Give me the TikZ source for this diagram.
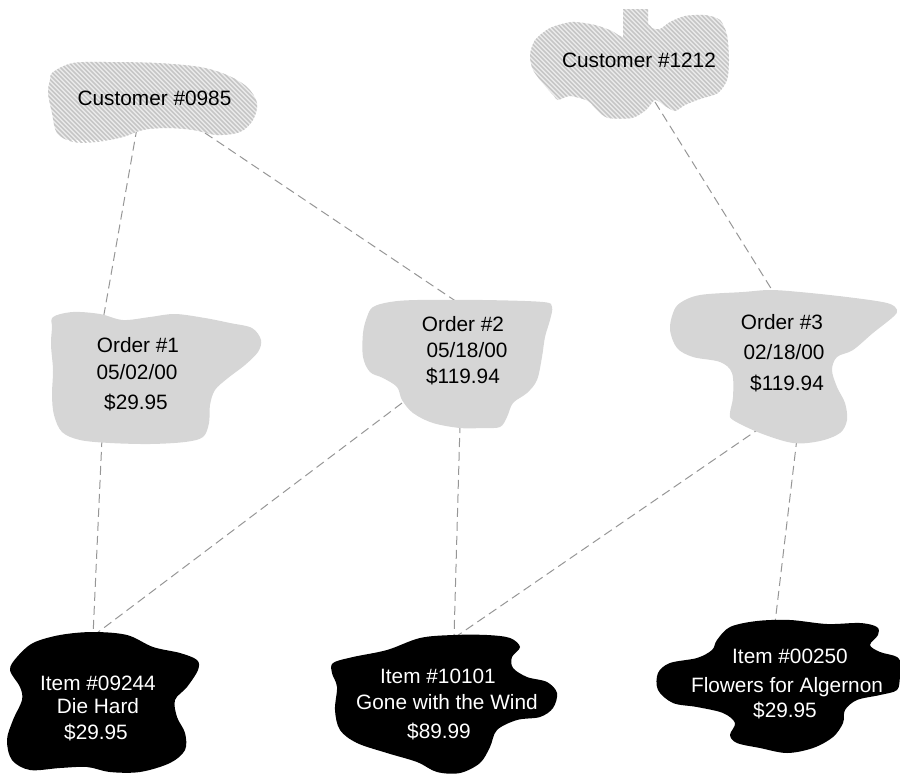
\documentclass[tikz,border=0pt]{standalone}
\usepackage{fontspec}
\setmainfont{Liberation Sans}
\definecolor{ordgray}{RGB}{214,214,214}
\definecolor{hatchbg}{RGB}{236,236,236}
\definecolor{hatchfg}{RGB}{198,198,198}
\definecolor{linkgray}{RGB}{150,150,150}
\newcommand\myhatch[2]{% x-range start, y top
  \fill[hatchbg] (#1,#2) rectangle ++(260,140);
  \foreach \k in {-160,-155.5,...,260}
    \draw[hatchline] ($(#1,#2)+(\k,0)$) -- ++(150,150);}
\usetikzlibrary{calc}
\begin{document}
\begin{tikzpicture}[x=1pt,y=-1pt,
  link/.style={draw=linkgray, line width=1pt, dash pattern=on 9pt off 5pt},
  hatchline/.style={draw=hatchfg, line width=1.6pt},
  orderblob/.style={fill=ordgray},
  itemblob/.style={fill=black},
  lbl/.style={font=\fontsize{20.8}{25}\selectfont, anchor=base, inner sep=0pt},
  itemlbl/.style={lbl, text=white}]
\useasboundingbox (0,0) rectangle (900,777);

% connector end points
\coordinate (pc1a) at (137,128);
\coordinate (pc1b) at (205,133);
\coordinate (pc2) at (655,102);
\coordinate (po1t) at (103,320);
\coordinate (po1b) at (102,438);
\coordinate (po2t) at (463,306);
\coordinate (po2l) at (402,403);
\coordinate (po2b) at (460,424);
\coordinate (po3t) at (777,298);
\coordinate (po3l) at (785,411);
\coordinate (po3b) at (797,438);
\coordinate (pi1t) at (93,636);
\coordinate (pi2t) at (454,638);
\coordinate (pi3t) at (775,623);

% connectors (behind the blobs)
\draw[link] (pc1a) -- (po1t);
\draw[link] (pc1b) -- (po2t);
\draw[link] (pc2) -- (po3t);
\draw[link] (po1b) -- (pi1t);
\draw[link] (po2l) -- (pi1t);
\draw[link] (po2b) -- (pi2t);
\draw[link] (po3l) -- (pi2t);
\draw[link] (po3b) -- (pi3t);

% customer blobs (hatched)
\begin{scope}
  \clip plot[smooth cycle, tension=0.55] coordinates {
  (53,72) (73,63) (107,62) (157,63) (200,67) (227,75) (247,87) (257,103)
  (253,120) (240,132) (217,135) (193,130) (167,128) (143,130) (123,137)
  (97,142) (73,142) (57,133) (52,113) (48,93) (50,80)};
  \myhatch{0}{0}
\end{scope}
\begin{scope}
  \clip plot[smooth cycle, tension=0.45] coordinates {
  (623,37) (635,28) (648,24) (652,28) (660,29) (670,22) (685,16) (705,15)
  (720,20) (727,35) (729,60) (727,80) (718,93) (700,99) (685,105) (675,111)
  (665,106) (655,100) (646,110) (632,118) (608,118) (597,110) (588,101)
  (570,96) (558,100) (554,96) (545,86) (533,70) (530,55) (535,40) (550,28)
  (572,22) (595,25) (612,31)};
  \myhatch{500}{0}
\end{scope}
\begin{scope}
  \clip (623,9) rectangle (648,36);
  \myhatch{500}{0}
\end{scope}

% order blobs
\path[orderblob] plot[smooth cycle, tension=0.55] coordinates {
  (53,317) (73,312) (100,314) (123,320) (150,317) (175,314) (205,318)
  (230,323) (252,328) (261,340) (258,352) (245,365) (228,378) (215,390)
  (210,405) (209,423) (203,437) (185,442) (150,444) (110,443) (80,440)
  (62,432) (54,415) (52,395) (53,370) (51,345) (52,328)};
\path[orderblob] plot[smooth cycle, tension=0.55] coordinates {
  (373,307) (390,302) (417,300) (483,300) (543,302) (552,307) (550,320)
  (545,337) (542,357) (537,380) (527,393) (513,403) (507,417) (500,427)
  (483,428) (460,428) (433,423) (413,413) (402,400) (397,387) (383,378)
  (370,372) (363,357) (363,333) (367,317)};
\path[orderblob] plot[smooth cycle, tension=0.55] coordinates {
  (680,303) (700,295) (743,292) (770,290) (800,292) (847,297) (887,303)
  (897,310) (893,317) (873,333) (853,350) (837,357) (832,370) (837,387)
  (845,403) (847,420) (840,433) (820,441) (793,443) (760,433) (733,420)
  (730,413) (733,397) (732,373) (720,362) (693,357) (677,348) (670,330)
  (673,313)};

% item blobs
\path[itemblob] plot[smooth cycle, tension=0.55] coordinates {
  (10,670) (17,657) (33,643) (60,635) (93,632) (127,635) (153,647)
  (180,653) (197,660) (198,670) (187,687) (175,700) (177,717) (185,733)
  (185,750) (170,763) (140,772) (110,772) (87,767) (60,768) (30,770)
  (12,760) (7,740) (13,720) (22,700) (20,687)};
\path[itemblob] plot[smooth cycle, tension=0.55] coordinates {
  (333,663) (353,657) (387,650) (420,638) (453,635) (487,635) (510,638)
  (520,647) (512,657) (513,668) (527,677) (547,682) (557,693) (553,708)
  (540,717) (517,720) (497,730) (490,747) (480,763) (460,773) (437,772)
  (417,762) (387,753) (357,743) (340,730) (335,710) (337,687) (332,673)};
\path[itemblob] plot[smooth cycle, tension=0.55] coordinates {
  (717,640) (730,627) (757,621) (790,620) (827,624) (860,623) (877,627)
  (878,635) (870,645) (880,652) (897,657) (902,667) (900,677) (897,690)
  (880,695) (857,700) (845,710) (843,723) (833,737) (813,748) (787,753)
  (760,748) (737,743) (730,735) (735,723) (723,713) (697,707) (673,703)
  (658,690) (658,673) (670,663) (697,658) (712,650)};

% labels
\node[lbl] (c1) at (154.5,105) {Customer \#0985};
\node[lbl] (c2) at (639,67) {Customer \#1212};

\node[lbl] (o1a) at (138,352) {Order \#1};
\node[lbl] (o1d) at (137,379) {05/02/00};
\node[lbl] (o1p) at (136,409) {\$29.95};

\node[lbl] (o2a) at (463,331) {Order \#2};
\node[lbl] (o2d) at (467,357) {05/18/00};
\node[lbl] (o2p) at (463,383) {\$119.94};

\node[lbl] (o3a) at (782,329) {Order \#3};
\node[lbl] (o3d) at (784,359) {02/18/00};
\node[lbl] (o3p) at (787,390) {\$119.94};

\node[itemlbl] (i1a) at (98,690) {Item \#09244};
\node[itemlbl] (i1t) at (98,713) {Die Hard};
\node[itemlbl] (i1p) at (96,739) {\$29.95};

\node[itemlbl] (i2a) at (438,683) {Item \#10101};
\node[itemlbl] (i2t) at (447,709) {Gone with the Wind};
\node[itemlbl] (i2p) at (439,738) {\$89.99};

\node[itemlbl] (i3a) at (790,663) {Item \#00250};
\node[itemlbl] (i3t) at (787,692) {Flowers for Algernon};
\node[itemlbl] (i3p) at (785,717) {\$29.95};
\end{tikzpicture}
\end{document}
